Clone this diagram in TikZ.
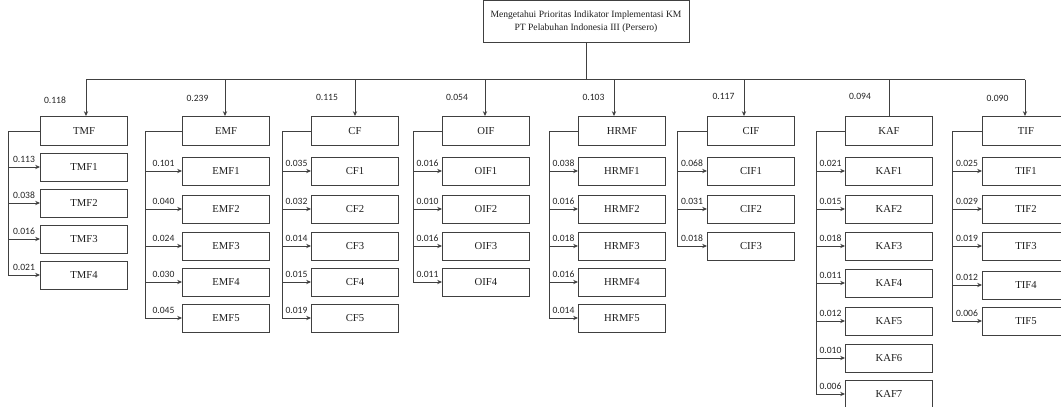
\documentclass[tikz,border=0pt]{standalone}
\usepackage{fontspec}
\setmainfont{Liberation Serif}
\newfontfamily\numfont{Carlito}
\usetikzlibrary{arrows.meta}
\newcommand\family[9]{%
  % #1 name, #2 left x, #3 bus x, #4 trunk x, #5 weight x, #6 weight y, #7 weight, #8 kids idx/y/w, #9 arrow style
  \node[box, minimum height=21.75pt, anchor=north west] (#1) at (#2,116) {#1};
  \coordinate (#1bus) at (#3,79.5);
  \draw[#9] (#1bus) -- (#1bus |- #1.north);
  \node[wt] (#1w) at (#5,#6) {#7};
  \foreach \i/\y/\w in {#8} {
    \node[box, anchor=west] (#1\i) at (#2,\y) {#1\i};
    \draw[arr] (#1.west) -| (#4,\y) -- node[wt, midway, above=2.6pt, inner sep=0pt] {\w} (#1\i.west);
  }%
}
\begin{document}
\begin{tikzpicture}[x=0.75pt,y=-0.75pt,
  line/.style={draw=black!75, line width=0.7pt},
  box/.style={line, rectangle, minimum width=65.25pt, minimum height=21pt, inner sep=0pt,
              font=\fontsize{8}{9}\selectfont, text=black!88},
  arr/.style={line, -{Stealth[length=3.6pt,width=3.2pt]}},
  plain/.style={line},
  wt/.style={font=\numfont\fontsize{7.2}{8}\selectfont, text=black!85, inner sep=0pt}]
\clip (0,0) rectangle (1061,407);
\fill[white] (0,0) rectangle (1061,407);

\node[box, minimum width=154.5pt, minimum height=32pt, align=center,
      font=\fontsize{7.2}{9.5}\selectfont] (top) at (586,21.5)
  {Mengetahui Prioritas Indikator Implementasi KM\\PT Pelabuhan Indonesia III (Persero)};
\coordinate (busL) at (86,79.5);
\coordinate (busR) at (1025,79.5);
\draw[line] (top.south) -- (top.south |- busL);
\draw[line] (busL) -- (busR);

\family{TMF}{40}{86}{8}{55}{100.5}{0.118}{1/167/0.113, 2/203/0.038, 3/239/0.016, 4/275/0.021}{arr}
\family{EMF}{182}{225}{145}{197.5}{98}{0.239}{1/171/0.101, 2/209/0.040, 3/246/0.024, 4/282/0.030, 5/318/0.045}{arr}
\family{CF}{311}{355}{282}{327}{97}{0.115}{1/171/0.035, 2/209/0.032, 3/246/0.014, 4/282/0.015, 5/318/0.019}{arr}
\family{OIF}{442}{485}{413}{457}{97.5}{0.054}{1/171/0.016, 2/209/0.010, 3/246/0.016, 4/282/0.011}{arr}
\family{HRMF}{578}{614}{549}{593.5}{97.5}{0.103}{1/171/0.038, 2/209/0.016, 3/246/0.018, 4/282/0.016, 5/318/0.014}{arr}
\family{CIF}{707}{744}{677}{723.5}{96.5}{0.117}{1/171/0.068, 2/209/0.031, 3/246/0.018}{arr}
\family{KAF}{845}{889}{816}{860}{96.5}{0.094}{1/171/0.021, 2/209/0.015, 3/246/0.018, 4/283/0.011, 5/321/0.012, 6/358/0.010, 7/394/0.006}{plain}
\family{TIF}{982}{1025}{952}{997.5}{98}{0.090}{1/171/0.025, 2/209/0.029, 3/246/0.019, 4/285/0.012, 5/321/0.006}{arr}
\end{tikzpicture}
\end{document}
